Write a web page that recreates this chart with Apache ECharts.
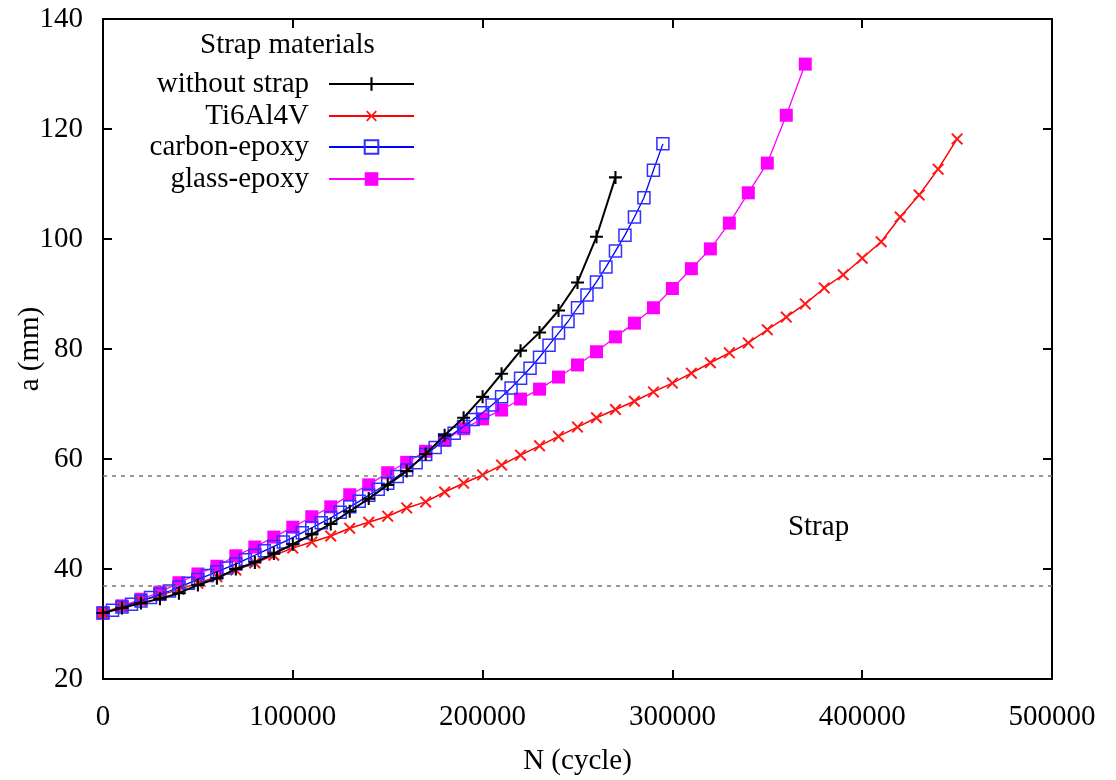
<!DOCTYPE html>
<html>
<head>
<meta charset="utf-8">
<script src="https://cdn.jsdelivr.net/npm/echarts@6/dist/echarts.min.js"></script>
<style>html,body{margin:0;padding:0;background:#fff;}#c{width:1116px;height:780px;}</style>
</head>
<body>
<div id="c"></div>
<script>
// ---- data ----
const cycles10k = [0,10000,20000,30000,40000,50000,60000,70000,80000,90000,100000,110000,120000,130000,140000,150000,160000,170000,180000,190000,200000,210000,220000,230000,240000,250000,260000,270000,280000,290000,300000,310000,320000,330000,340000,350000,360000,370000,380000,390000,400000,410000,420000,430000,440000,450000];
const cycles5k = [0,5000,10000,15000,20000,25000,30000,35000,40000,45000,50000,55000,60000,65000,70000,75000,80000,85000,90000,95000,100000,105000,110000,115000,120000,125000,130000,135000,140000,145000,150000,155000,160000,165000,170000,175000,180000,185000,190000,195000,200000,205000,210000,215000,220000,225000,230000,235000,240000,245000,250000,255000,260000,265000,270000,275000,280000,285000,290000,295000];

const withoutStrap = [32,32.9,33.8,34.6,35.6,37.1,38.3,40,41.2,42.8,44.5,46.3,48.2,50.5,52.8,55.3,57.8,60.9,64.3,67.5,71.3,75.5,79.7,83,87,92.1,100.4,111.2];
const ti6al4v = [32,33.2,34.2,35.2,36.3,37.4,38.6,39.8,41.1,42.5,43.8,44.9,46,47.4,48.5,49.6,51.1,52.2,54,55.6,57.1,58.9,60.7,62.4,64.1,65.8,67.5,69,70.5,72.2,73.8,75.6,77.5,79.3,81.1,83.5,85.8,88.2,91.1,93.5,96.5,99.5,104,108,112.7,118.2];
const carbonEpoxy = [32,32.5,33.1,33.6,34.2,34.8,35.4,36,36.7,37.4,38.1,38.8,39.5,40.2,40.9,41.7,42.5,43.3,44.1,44.9,45.7,46.6,47.5,48.4,49.3,50.3,51.3,52.3,53.4,54.5,55.6,56.8,58,59.3,60.8,62.1,63.5,64.7,65.9,67.2,68.4,69.8,71.3,72.9,74.7,76.5,78.5,80.7,82.9,85,87.5,89.8,92.2,94.9,97.8,100.7,104,107.5,112.5,117.3];
const glassEpoxy = [32,33.3,34.5,35.8,37.5,39.1,40.5,42.4,44,45.8,47.6,49.5,51.3,53.5,55.3,57.5,59.4,61.4,63.4,65.5,67.3,68.9,70.9,72.7,74.9,77.1,79.5,82.2,84.7,87.5,91,94.6,98.2,102.9,108.4,113.8,122.5,131.8];

const seriesNames = ['without strap','Ti6Al4V','carbon-epoxy','glass-epoxy'];
const strapBounds = [37, 57];
const strapLabel = {n: 377000, a: 47.6, text: 'Strap'};
const xTicks = {min: 0, max: 500000, step: 100000};
const yTicks = {min: 20, max: 140, step: 20};

function pairs(xs, ys){ return ys.map((v,i)=>[xs[i], v]); }

const SERIF = 'Liberation Serif';
const FS = 29;
const plusPath = 'path://M4.2,0H5.8V4.2H10V5.8H5.8V10H4.2V5.8H0V4.2H4.2Z';
const xPath = 'path://M4.35,0H5.65V4.35H10V5.65H5.65V10H4.35V5.65H0V4.35H4.35Z';

const chart = echarts.init(document.getElementById('c'), null, {renderer:'canvas'});

const axisLineStyle = {color:'#000', width:2};
const tickStyle = {inside:true, length:9, lineStyle:{color:'#000', width:2}};

function legendFor(i, top){
  return {
    data:[seriesNames[i]], right: 701, top: top, orient:'vertical', align:'right',
    itemWidth: 85, itemHeight: 17, padding: 0, selectedMode:false,
    textStyle:{fontFamily:SERIF, fontSize:FS, color:'#000', lineHeight:30, padding:[0,15,0,0]}
  };
}

const option = {
  animation:false,
  backgroundColor:'#fff',
  title:{text:'Strap materials', left:200, top:31, padding:0,
    textStyle:{fontFamily:SERIF, fontSize:FS, fontWeight:'normal', color:'#000'}},
  legend:[legendFor(0,69), legendFor(1,101), legendFor(2,132), legendFor(3,164)],
  grid:{left:103, right:64, top:19, bottom:101, containLabel:false, outerBoundsMode:'none'},
  xAxis:[{
    type:'value', min:xTicks.min, max:xTicks.max, interval:xTicks.step,
    name:'N (cycle)', nameLocation:'middle', nameGap:68, nameMoveOverlap:false,
    nameTextStyle:{fontFamily:SERIF, fontSize:FS, color:'#000'},
    axisLine:{show:true, onZero:false, lineStyle:axisLineStyle},
    axisTick:tickStyle, splitLine:{show:false},
    axisLabel:{margin:24, fontFamily:SERIF, fontSize:FS, color:'#000', formatter:v=>String(v)}
  },{
    type:'value', position:'top', min:xTicks.min, max:xTicks.max, interval:xTicks.step,
    axisLine:{show:true, onZero:false, lineStyle:axisLineStyle},
    axisTick:tickStyle, splitLine:{show:false}, axisLabel:{show:false}
  }],
  yAxis:[{
    type:'value', min:yTicks.min, max:yTicks.max, interval:yTicks.step,
    name:'a (mm)', nameLocation:'middle', nameGap:58, nameRotate:90, nameMoveOverlap:false,
    nameTextStyle:{fontFamily:SERIF, fontSize:FS, color:'#000'},
    axisLine:{show:true, onZero:false, lineStyle:axisLineStyle},
    axisTick:tickStyle, splitLine:{show:false},
    axisLabel:{margin:20, fontFamily:SERIF, fontSize:FS, color:'#000'}
  },{
    type:'value', position:'right', min:yTicks.min, max:yTicks.max, interval:yTicks.step,
    axisLine:{show:true, onZero:false, lineStyle:axisLineStyle},
    axisTick:tickStyle, splitLine:{show:false}, axisLabel:{show:false}
  }],
  series:[
    {
      name:seriesNames[0], type:'line', data:pairs(cycles10k, withoutStrap),
      symbol:plusPath, symbolSize:13, showAllSymbol:true,
      lineStyle:{color:'#000', width:2}, itemStyle:{color:'#000'},
      z:5,
      markLine:{silent:true, symbol:'none', label:{show:false},
        lineStyle:{color:'#777', type:[4,5], width:1.5},
        data:strapBounds.map(v=>({yAxis:v}))},
      markPoint:{silent:true, data:[{coord:[strapLabel.n, strapLabel.a], symbol:'circle', symbolSize:0,
        label:{show:true, position:'inside', formatter:strapLabel.text, fontFamily:SERIF, fontSize:FS, color:'#000'}}]}
    },
    {
      name:seriesNames[1], type:'line', data:pairs(cycles10k, ti6al4v),
      symbol:xPath, symbolSize:15, symbolRotate:45, showAllSymbol:true,
      lineStyle:{color:'#ff0000', width:1.5}, itemStyle:{color:'#ff1a1a'}, z:3
    },
    {
      name:seriesNames[2], type:'line', data:pairs(cycles5k, carbonEpoxy),
      symbol:'rect', symbolSize:12, showAllSymbol:true,
      lineStyle:{color:'#0000ff', width:1.3},
      itemStyle:{color:'rgba(0,0,0,0)', borderColor:'#3030ff', borderWidth:1.5}, z:4
    },
    {
      name:seriesNames[3], type:'line', data:pairs(cycles10k, glassEpoxy),
      symbol:'rect', symbolSize:13, showAllSymbol:true,
      lineStyle:{color:'#ff00ff', width:1.3}, itemStyle:{color:'#ff00ff'}, z:2
    }
  ]
};
chart.setOption(option);
</script>
</body>
</html>
